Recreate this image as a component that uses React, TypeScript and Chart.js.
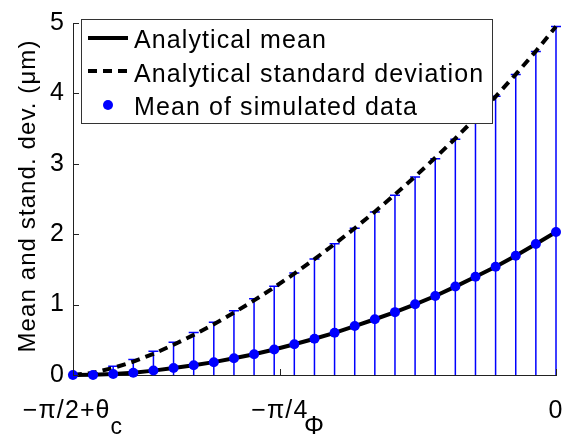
import { useEffect, useRef } from 'react';
import { Chart, registerables } from 'chart.js';

Chart.register(...registerables);

// Incidence-angle range: from -π/2 + θc up to 0
const THETA_C = 0.197;
const PHI_MIN = -Math.PI / 2 + THETA_C;

const phi = [
  -1.374, -1.3168, -1.2595, -1.2023, -1.145, -1.0878, -1.0305, -0.9733, -0.916,
  -0.8588, -0.8015, -0.7443, -0.687, -0.6298, -0.5725, -0.5153, -0.458, -0.4008,
  -0.3435, -0.2863, -0.229, -0.1718, -0.1145, -0.0573, 0,
];

const analyticalMean = [
  0, 0.005, 0.015, 0.033, 0.062, 0.098, 0.138, 0.183, 0.238, 0.295, 0.362, 0.436,
  0.515, 0.598, 0.694, 0.792, 0.893, 1.004, 1.122, 1.256, 1.395, 1.538, 1.694,
  1.86, 2.03,
];

const analyticalStd = [
  0, 0.03, 0.1, 0.19, 0.3, 0.43, 0.57, 0.72, 0.885, 1.06, 1.245, 1.44, 1.645,
  1.86, 2.085, 2.32, 2.565, 2.82, 3.085, 3.36, 3.65, 3.955, 4.27, 4.6, 4.95,
];

const simulatedMean = [
  0, 0, 0.014, 0.032, 0.064, 0.1, 0.138, 0.18, 0.239, 0.294, 0.363, 0.438, 0.516,
  0.599, 0.695, 0.792, 0.893, 1.004, 1.123, 1.257, 1.395, 1.538, 1.694, 1.86,
  2.03,
];

// Upper end of each error bar (mean + half-width)
const simulatedUpper = [
  0, 0.03, 0.124, 0.221, 0.336, 0.465, 0.603, 0.75, 0.912, 1.082, 1.262, 1.45,
  1.648, 1.865, 2.086, 2.316, 2.555, 2.813, 3.071, 3.35, 3.65, 3.96, 4.268,
  4.595, 4.95,
];

const yTicks = [0, 1, 2, 3, 4, 5];
const xTickValues = [PHI_MIN, -Math.PI / 4, 0];
const xTickLabels = [
  { main: '−π/2+θ', sub: 'c' },
  { main: '−π/4', sub: '' },
  { main: '0', sub: '' },
];
const seriesLabels = [
  'Analytical mean',
  'Analytical standard deviation',
  'Mean of simulated data',
];
const xTitle = 'Φ';
const yTitle = 'Mean and stand. dev. (μm)';

const FONT_FAMILY = '"Liberation Sans", Arial, Helvetica, sans-serif';
const SPACING = '1.1px';
const BLUE = '#0000ff';

const errorBars = {
  id: 'errorBars',
  beforeDatasetsDraw(chart: any) {
    const { ctx, chartArea, scales } = chart;
    const x = scales.x;
    const y = scales.y;
    ctx.save();
    ctx.beginPath();
    ctx.rect(chartArea.left - 10, chartArea.top - 10, chartArea.right - chartArea.left + 20, chartArea.bottom - chartArea.top + 10);
    ctx.clip();
    ctx.strokeStyle = BLUE;
    ctx.lineWidth = 1.5;
    for (let i = 0; i < phi.length; i++) {
      const px = x.getPixelForValue(phi[i]);
      const half = simulatedUpper[i] - simulatedMean[i];
      const top = y.getPixelForValue(simulatedMean[i] + half);
      const bottom = y.getPixelForValue(simulatedMean[i] - half);
      ctx.beginPath();
      ctx.moveTo(px, top);
      ctx.lineTo(px, bottom);
      ctx.moveTo(px - 5, top);
      ctx.lineTo(px + 5, top);
      ctx.moveTo(px - 5, bottom);
      ctx.lineTo(px + 5, bottom);
      ctx.stroke();
    }
    ctx.restore();
  },
};

const decorations = {
  id: 'decorations',
  beforeDraw(chart: any) {
    chart.ctx.letterSpacing = SPACING;
  },
  afterDraw(chart: any) {
    const { ctx, chartArea, scales } = chart;
    const x = scales.x;
    const y = scales.y;
    ctx.save();
    ctx.letterSpacing = SPACING;

    // inward tick marks
    ctx.strokeStyle = '#222';
    ctx.lineWidth = 1;
    ctx.beginPath();
    for (const v of yTicks) {
      const py = Math.round(y.getPixelForValue(v)) + 0.5;
      ctx.moveTo(chartArea.left, py);
      ctx.lineTo(chartArea.left + 6, py);
    }
    for (const v of xTickValues) {
      const px = Math.round(x.getPixelForValue(v)) + 0.5;
      ctx.moveTo(px, chartArea.bottom);
      ctx.lineTo(px, chartArea.bottom - 6);
    }
    ctx.stroke();

    // x tick labels (with subscript)
    ctx.fillStyle = '#000';
    ctx.textBaseline = 'alphabetic';
    ctx.textAlign = 'left';
    xTickValues.forEach((v, i) => {
      const lab = xTickLabels[i];
      const px = x.getPixelForValue(v);
      ctx.font = `25px ${FONT_FAMILY}`;
      const wMain = ctx.measureText(lab.main).width;
      ctx.font = `23px ${FONT_FAMILY}`;
      const wSub = lab.sub ? ctx.measureText(lab.sub).width : 0;
      const start = px - (wMain + wSub) / 2;
      ctx.font = `25px ${FONT_FAMILY}`;
      ctx.fillText(lab.main, start, 418);
      if (lab.sub) {
        ctx.font = `23px ${FONT_FAMILY}`;
        ctx.fillText(lab.sub, start + wMain, 434);
      }
    });

    // axis titles
    ctx.font = `25px ${FONT_FAMILY}`;
    ctx.textAlign = 'center';
    ctx.fillText(xTitle, (chartArea.left + chartArea.right) / 2, 434);

    ctx.save();
    ctx.translate(35, (chartArea.top + chartArea.bottom) / 2 - 3);
    ctx.rotate(-Math.PI / 2);
    ctx.font = `24px ${FONT_FAMILY}`;
    ctx.fillText(yTitle, 0, 0);
    ctx.restore();

    // legend box
    const bx = 81.5, by = 19.5, bw = 411, bh = 104;
    ctx.fillStyle = '#fff';
    ctx.fillRect(bx, by, bw, bh);
    ctx.strokeStyle = '#333';
    ctx.lineWidth = 1;
    ctx.strokeRect(bx, by, bw, bh);

    ctx.strokeStyle = '#000';
    ctx.lineWidth = 4;
    ctx.beginPath();
    ctx.moveTo(88, 38);
    ctx.lineTo(128, 38);
    ctx.stroke();

    ctx.setLineDash([9, 6]);
    ctx.beginPath();
    ctx.moveTo(88, 71);
    ctx.lineTo(128, 71);
    ctx.stroke();
    ctx.setLineDash([]);

    ctx.fillStyle = BLUE;
    ctx.beginPath();
    ctx.arc(108, 105, 5, 0, Math.PI * 2);
    ctx.fill();

    ctx.fillStyle = '#000';
    ctx.textAlign = 'left';
    ctx.font = `25px ${FONT_FAMILY}`;
    ctx.fillText(seriesLabels[0], 134, 48);
    ctx.fillText(seriesLabels[1], 134, 82);
    ctx.fillText(seriesLabels[2], 134, 115);

    ctx.restore();
  },
};

export default function App() {
  const canvasRef = useRef<HTMLCanvasElement | null>(null);

  useEffect(() => {
    document.body.style.margin = '0';
    const canvas = canvasRef.current;
    if (!canvas) return;

    const chart = new Chart(canvas, {
      type: 'line',
      data: {
        datasets: [
          {
            label: seriesLabels[2],
            data: phi.map((p, i) => ({ x: p, y: simulatedMean[i] })),
            showLine: false,
            pointRadius: 5,
            pointBackgroundColor: BLUE,
            pointBorderColor: BLUE,
            pointBorderWidth: 0,
            clip: false as any,
          },
          {
            label: seriesLabels[0],
            data: phi.map((p, i) => ({ x: p, y: analyticalMean[i] })),
            borderColor: '#000',
            borderWidth: 4,
            pointRadius: 0,
            tension: 0,
            clip: false as any,
          },
          {
            label: seriesLabels[1],
            data: phi.map((p, i) => ({ x: p, y: analyticalStd[i] })),
            borderColor: '#000',
            borderWidth: 4,
            borderDash: [9, 6],
            pointRadius: 0,
            tension: 0,
            clip: false as any,
          },
        ],
      },
      options: {
        responsive: false,
        animation: false,
        events: [],
        layout: { padding: { top: 13, right: 15, left: 0, bottom: 0 } },
        plugins: {
          legend: { display: false },
          tooltip: { enabled: false },
        },
        scales: {
          x: {
            type: 'linear',
            min: PHI_MIN,
            max: 0,
            grid: { display: false, drawTicks: false },
            border: { display: true, color: '#222', width: 1 },
            ticks: { display: false },
            afterFit: (scale: any) => {
              scale.height = 61;
            },
          },
          y: {
            type: 'linear',
            min: 0,
            max: 5,
            grid: { display: false, drawTicks: false },
            border: { display: true, color: '#222', width: 1 },
            ticks: {
              stepSize: 1,
              padding: 8,
              color: '#000',
              font: { family: FONT_FAMILY, size: 25 },
            },
            afterFit: (scale: any) => {
              scale.width = 73;
            },
          },
        },
      },
      plugins: [errorBars, decorations],
    });

    return () => chart.destroy();
  }, []);

  return (
    <canvas
      ref={canvasRef}
      width={571}
      height={436}
      style={{ display: 'block', width: 571, height: 436 }}
    />
  );
}
